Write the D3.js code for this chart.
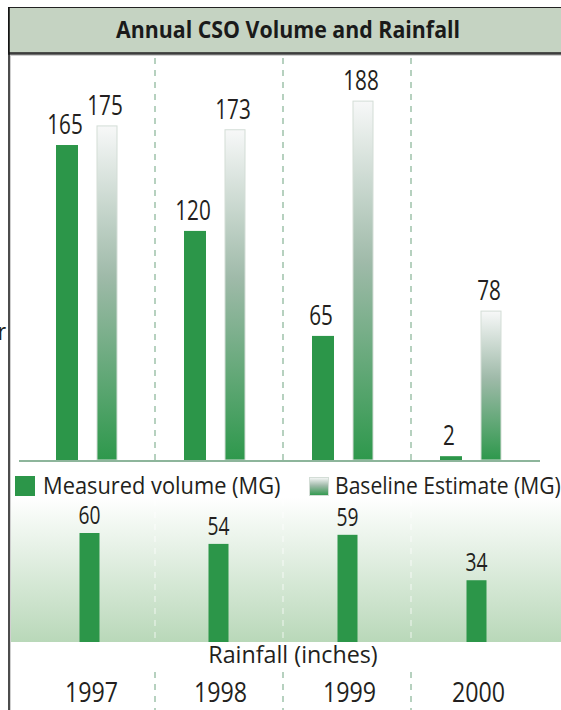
<!DOCTYPE html>
<html>
<head>
<meta charset="utf-8">
<script src="https://cdn.jsdelivr.net/npm/d3@7"></script>
<style>
  html, body { margin: 0; padding: 0; background: #fff; }
  svg { display: block; font-family: 'Open Sans', sans-serif; }
</style>
</head>
<body>
<svg id="chart" width="561" height="710"></svg>
<script>
// chart data
const title = 'Annual CSO Volume and Rainfall'
const years = ['1997', '1998', '1999', '2000']
const measured = [165, 120, 65, 2]
const baseline = [175, 173, 188, 78]
const rainfall = [60, 54, 59, 34]
const seriesNames = ['Measured volume (MG)', 'Baseline Estimate (MG)']
const rainfallTitle = 'Rainfall (inches)'

const green = '#2c9649'
const svg = d3.select('#chart')
const defs = svg.append('defs')

// gradients
const baseGrad = defs.append('linearGradient')
  .attr('id', 'baseGrad').attr('x1', 0).attr('y1', 0).attr('x2', 0).attr('y2', 1)
baseGrad.append('stop').attr('offset', '0%').attr('stop-color', '#f7f8f8')
baseGrad.append('stop').attr('offset', '45%').attr('stop-color', '#9fbaa9')
baseGrad.append('stop').attr('offset', '100%').attr('stop-color', '#2e984c')

const panelGrad = defs.append('linearGradient')
  .attr('id', 'panelGrad').attr('x1', 0).attr('y1', 0).attr('x2', 0).attr('y2', 1)
panelGrad.append('stop').attr('offset', '0%').attr('stop-color', '#ffffff')
panelGrad.append('stop').attr('offset', '100%').attr('stop-color', '#b9d8b9')

// scales
const x = d3.scaleBand().domain(years).range([23, 535])
const xSub = d3.scalePoint().domain(['measured', 'baseline']).range([-20, 20])
const x2 = d3.scaleBand().domain(years).range([25, 541])
const y = d3.scaleLinear().domain([0, 200]).range([460, 78.2])
const y2 = d3.scaleLinear().domain([0, 60]).range([642, 533])

// squeezed text helper (reference font is narrow)
function label(g, txt, px, py, size, sx, opts = {}) {
  return g.append('text')
    .attr('transform', `translate(${px},${py}) scale(${sx},1)`)
    .attr('text-anchor', opts.anchor || 'middle')
    .attr('font-size', size)
    .attr('font-weight', opts.weight || 400)
    .attr('fill', opts.fill || '#231f20')
    .text(txt)
}

// bottom gradient panel
svg.append('rect')
  .attr('x', 10).attr('y', 497).attr('width', 551).attr('height', 145)
  .attr('fill', 'url(#panelGrad)')

// separators
const seps = years.slice(0, -1).map((d) => x(d) + x.step() + 4)
const sepG = svg.append('g')
sepG.selectAll('.sepTop').data(seps).enter().append('line')
  .attr('x1', (d) => d).attr('x2', (d) => d)
  .attr('y1', 58).attr('y2', 465)
  .attr('stroke', '#9fc2ab').attr('stroke-width', 1.5)
  .attr('stroke-dasharray', '6,6')
sepG.selectAll('.sepMid').data(seps).enter().append('line')
  .attr('x1', (d) => d).attr('x2', (d) => d)
  .attr('y1', 500).attr('y2', 642)
  .attr('stroke', '#ffffff').attr('stroke-opacity', 0.5).attr('stroke-width', 1.5)
  .attr('stroke-dasharray', '6,6')
sepG.selectAll('.sepBot').data(seps).enter().append('line')
  .attr('x1', (d) => d).attr('x2', (d) => d)
  .attr('y1', 672).attr('y2', 710)
  .attr('stroke', '#9fc2ab').attr('stroke-width', 1.5)
  .attr('stroke-dasharray', '6,6')

// top chart bars
const upper = svg.append('g')
const groups = years.map((yr, i) => ({ year: yr, measured: measured[i], baseline: baseline[i] }))

upper.selectAll('.measured').data(groups).enter().append('rect')
  .attr('x', (d) => x(d.year) + x.bandwidth() / 2 + xSub('measured') - 11)
  .attr('width', 22)
  .attr('y', (d) => y(d.measured))
  .attr('height', (d) => y(0) - y(d.measured))
  .attr('fill', green)

upper.selectAll('.baseline').data(groups).enter().append('rect')
  .attr('x', (d) => x(d.year) + x.bandwidth() / 2 + xSub('baseline') - 10)
  .attr('width', 20)
  .attr('y', (d) => y(d.baseline))
  .attr('height', (d) => y(0) - y(d.baseline))
  .attr('fill', 'url(#baseGrad)')
  .attr('stroke', '#d3ddd6').attr('stroke-width', 1)

groups.forEach((d) => {
  const cx = x(d.year) + x.bandwidth() / 2
  label(upper, d.measured, cx + xSub('measured') - 2, y(d.measured) - 11, 28, 0.74)
  label(upper, d.baseline, cx + xSub('baseline') - 2, y(d.baseline) - 11, 28, 0.74)
})

// top baseline
upper.append('line')
  .attr('x1', 19).attr('x2', 540).attr('y1', y(0) + 1).attr('y2', y(0) + 1)
  .attr('stroke', '#8db59b').attr('stroke-width', 2)

// legend
const leg = svg.append('g')
leg.append('rect').attr('x', 15).attr('y', 476).attr('width', 20).attr('height', 20).attr('fill', green)
label(leg, seriesNames[0], 43, 494, 24, 0.91, { anchor: 'start' })
leg.append('rect').attr('x', 309.5).attr('y', 477.5).attr('width', 19).attr('height', 18)
  .attr('fill', 'url(#baseGrad)').attr('stroke', '#d3ddd6')
label(leg, seriesNames[1], 335, 494, 24, 0.88, { anchor: 'start' })

// rainfall bars
const lower = svg.append('g')
lower.selectAll('.rain').data(years).enter().append('rect')
  .attr('x', (d) => x2(d) + x2.bandwidth() / 2 - 10)
  .attr('width', 20)
  .attr('y', (d, i) => y2(rainfall[i]))
  .attr('height', (d, i) => y2(0) - y2(rainfall[i]))
  .attr('fill', green)
years.forEach((d, i) => {
  label(lower, rainfall[i], x2(d) + x2.bandwidth() / 2, y2(rainfall[i]) - 9, 26, 0.74)
})
label(lower, rainfallTitle, 293, 663, 24, 0.97)

// year labels
years.forEach((d) => {
  label(lower, d, x2(d) + x2.bandwidth() / 2 + 2, 702, 27, 0.86)
})

// cut-off axis text on the left
label(svg, 'r', 6, 340, 24, 0.85, { anchor: 'end' })

// title bar
svg.append('rect')
  .attr('x', 8.5).attr('y', 7.5).attr('width', 560).attr('height', 45.5)
  .attr('fill', '#c5d3c2').attr('stroke', '#222').attr('stroke-width', 1)
svg.append('line').attr('x1', 8).attr('x2', 561).attr('y1', 53.5).attr('y2', 53.5)
  .attr('stroke', '#3d3d3d').attr('stroke-width', 2.5)
svg.append('line').attr('x1', 10).attr('x2', 561).attr('y1', 55.5).attr('y2', 55.5)
  .attr('stroke', '#cfcfcf').attr('stroke-width', 1)
label(svg, title, 288, 38, 24, 0.89, { weight: 700, fill: '#1a1a1a' })

// left frame line
svg.append('line').attr('x1', 9).attr('x2', 9).attr('y1', 7).attr('y2', 710)
  .attr('stroke', '#111').attr('stroke-width', 1.5)
svg.append('line').attr('x1', 10.5).attr('x2', 10.5).attr('y1', 55).attr('y2', 710)
  .attr('stroke', '#cfcfcf').attr('stroke-width', 1)
</script>
</body>
</html>
